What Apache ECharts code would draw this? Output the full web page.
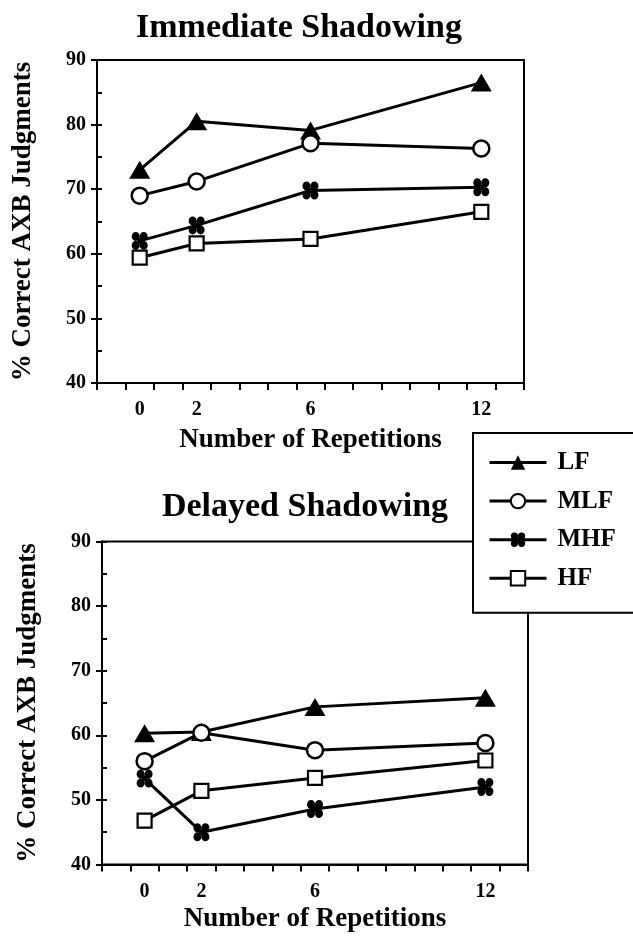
<!DOCTYPE html>
<html>
<head>
<meta charset="utf-8">
<script src="https://cdn.jsdelivr.net/npm/echarts@6/dist/echarts.min.js"></script>
<style>html,body{margin:0;padding:0;background:#fff}#c{width:633px;height:936px}</style>
</head>
<body>
<div id="c"></div>
<script>
// ---- data ----
const xCategories = ['-1','0','1','2','3','4','5','6','7','8','9','10','11','12','13'];
const xLabelsShown = ['0','2','6','12'];
const repetitions = ['0','2','6','12'];
const seriesNames = ['LF','MLF','MHF','HF'];
const titles = ['Immediate Shadowing','Delayed Shadowing'];
const xTitle = 'Number of Repetitions';
const yTitle = '% Correct AXB Judgments';
const yTicks = [40,50,60,70,80,90];

const immLF  = [73.0, 80.5, 79.1, 86.5];
const immMLF = [69.0, 71.2, 77.1, 76.3];
const immMHF = [62.0, 64.4, 69.8, 70.3];
const immHF  = [59.4, 61.6, 62.3, 66.5];

const delLF  = [60.3, 60.5, 64.4, 65.8];
const delMLF = [56.0, 60.4, 57.7, 58.8];
const delMHF = [53.3, 45.0, 48.6, 52.0];
const delHF  = [46.8, 51.4, 53.4, 56.1];

// ---- styles ----
const FONT = 'Liberation Serif';
const crossPath = 'path://M1,5.5A4.5,4.5 0 1 1 10,5.5A4.5,4.5 0 1 1 1,5.5Z M10,5.5A4.5,4.5 0 1 1 19,5.5A4.5,4.5 0 1 1 10,5.5Z M1,14.5A4.5,4.5 0 1 1 10,14.5A4.5,4.5 0 1 1 1,14.5Z M10,14.5A4.5,4.5 0 1 1 19,14.5A4.5,4.5 0 1 1 10,14.5Z M10,7L13,10L10,13L7,10Z';
const markerStyle = {
  LF:  {symbol:'triangle', symbolSize:[21,18], itemStyle:{color:'#000', borderColor:'#000', borderWidth:0}},
  MLF: {symbol:'circle', symbolSize:16, itemStyle:{color:'#fff', borderColor:'#000', borderWidth:2.5}},
  MHF: {symbol:crossPath, symbolSize:[16,18], itemStyle:{color:'#000', borderColor:'#000', borderWidth:0}},
  HF:  {symbol:'rect', symbolSize:14, itemStyle:{color:'#fff', borderColor:'#000', borderWidth:2.2}}
};

const grids = [
  {left:97, right:109, top:60, height:323, nameGap:44},
  {left:102, right:105, top:541.5, height:323, nameGap:41}
];

const panelData = [
  {LF:immLF, MLF:immMLF, MHF:immMHF, HF:immHF},
  {LF:delLF, MLF:delMLF, MHF:delMHF, HF:delHF}
];

const xAxes = [], yAxes = [], series = [];
grids.forEach((g, gi) => {
  xAxes.push({
    type:'category', gridIndex:gi, data:xCategories, boundaryGap:true,
    name:xTitle, nameLocation:'middle', nameGap:g.nameGap,
    nameTextStyle:{fontFamily:FONT, fontWeight:'bold', fontSize:27, color:'#000'},
    axisLine:{show:true, lineStyle:{color:'#000', width:2}},
    axisTick:{show:true, interval:0, length:7, inside:false, lineStyle:{color:'#000', width:2}},
    axisLabel:{show:true, interval:0, margin:17, fontFamily:FONT, fontWeight:'bold', fontSize:20, color:'#000',
      formatter:(v)=> xLabelsShown.indexOf(v) >= 0 ? v : ''},
    splitLine:{show:false}
  });
  yAxes.push({
    type:'value', gridIndex:gi, min:yTicks[0], max:yTicks[yTicks.length-1], interval:10,
    name:yTitle, nameLocation:'middle', nameGap:60, nameRotate:90,
    nameTextStyle:{fontFamily:FONT, fontWeight:'bold', fontSize:27, color:'#000'},
    axisLine:{show:true, lineStyle:{color:'#000', width:2}},
    axisTick:{show:true, length:6, inside:false, lineStyle:{color:'#000', width:2}},
    axisLabel:{margin:11, fontFamily:FONT, fontWeight:'bold', fontSize:20, color:'#000'},
    splitLine:{show:false}
  });
  yAxes.push({
    type:'value', gridIndex:gi, min:40, max:90, interval:5, position:'left',
    axisLine:{show:false}, axisLabel:{show:false}, splitLine:{show:false},
    axisTick:{show:true, inside:true, length:5, lineStyle:{color:'#000', width:2}}
  });
  seriesNames.forEach((n) => {
    const vals = panelData[gi][n];
    series.push(Object.assign({
      name:n, type:'line', xAxisIndex:gi, yAxisIndex:gi*2,
      data: repetitions.map((r,i)=>[r, vals[i]]),
      lineStyle:{color:'#000', width:3},
      showAllSymbol:true, animation:false, z: 3
    }, markerStyle[n]));
  });
});

const chart = echarts.init(document.getElementById('c'), null, {renderer:'canvas'});
chart.setOption({
  animation:false,
  backgroundColor:'#fff',
  title:[
    {text:titles[0], left:299, top:11, textAlign:'center', padding:0,
     textStyle:{fontFamily:FONT, fontWeight:'bold', fontSize:34, color:'#000'}},
    {text:titles[1], left:305, top:490, textAlign:'center', padding:0,
     textStyle:{fontFamily:FONT, fontWeight:'bold', fontSize:34, color:'#000'}}
  ],
  grid: grids.map(g => ({show:true, borderColor:'#000', borderWidth:2, backgroundColor:'transparent',
    left:g.left, right:g.right, top:g.top, height:g.height})),
  xAxis:xAxes,
  yAxis:yAxes,
  legend:{
    data:seriesNames, orient:'vertical', left:473, top:433,
    padding:[17,120,22,15], itemWidth:57, itemHeight:18, itemGap:13.6,
    backgroundColor:'#fff', borderColor:'#000', borderWidth:2, borderRadius:0,
    lineStyle:{width:3, color:'#000'},
    textStyle:{fontFamily:FONT, fontWeight:'bold', fontSize:25, lineHeight:18, color:'#000', padding:[0,0,0,6]},
    selectedMode:false, z:10
  },
  series:series
});
</script>
</body>
</html>
